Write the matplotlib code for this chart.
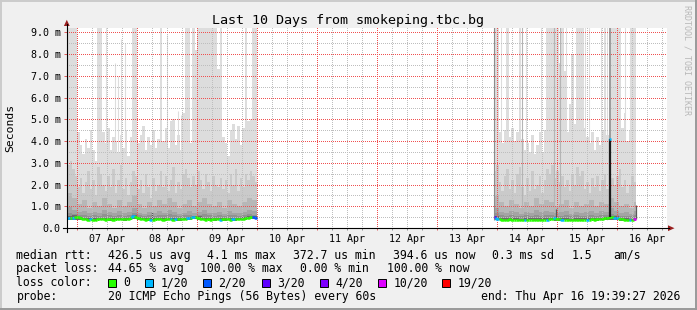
import numpy as np
import matplotlib
matplotlib.use('Agg')
from matplotlib import pyplot as plt
from matplotlib.collections import LineCollection
from matplotlib.patches import Rectangle, Polygon

W, H = 697, 310

# time axis: hours counted from 07 Apr 00:00, one value per hour
P1_START = -4.0
P2_START = 166.7

# ---- first block of data (06 Apr evening .. 10 Apr 00:00) ----
P1_MAX = [
    10, 10, 10, 10, 4.4, 3.8, 3.4, 4.1, 3.7, 4.5,
    3.6, 3.1, 10, 10, 4.4, 3.9, 4.6, 3.6, 4.2, 4.0,
    3.5, 4.3, 3.7, 4.5, 3.3, 4.2, 10, 10, 3.9, 4.3,
    4.7, 3.6, 4.2, 3.8, 4.5, 3.7, 4.1, 10, 4.0, 4.6,
    3.7, 4.9, 5.0, 3.8, 4.3, 3.6, 5.3, 10, 10, 3.9,
    10, 8.2, 10, 10, 10, 10, 10, 10, 10, 10,
    7.3, 10, 4.2, 3.9, 3.3, 4.5, 4.8, 4.1, 4.7, 3.8,
    4.6, 10, 4.9, 5.0, 10, 10,
]
P1_P19 = [
    2.9, 3.1, 2.7, 2.4, 1.9, 2.3, 1.6, 2.1, 2.6, 1.8,
    2.2, 1.5, 2.8, 2.5, 2.0, 1.7, 2.4, 1.9, 2.7, 1.6,
    2.2, 2.9, 1.8, 2.3, 1.5, 2.1, 2.6, 2.4, 1.8, 2.2,
    1.6, 2.5, 1.9, 1.4, 2.3, 1.7, 2.0, 2.6, 1.9, 2.4,
    1.7, 2.2, 2.8, 1.6, 2.1, 1.8, 2.5, 2.7, 2.3, 1.9,
    2.4, 2.0, 2.6, 2.2, 1.8, 2.5, 2.1, 1.7, 2.4, 2.0,
    1.9, 2.3, 1.8, 2.2, 1.6, 2.5, 2.0, 2.7, 1.7, 2.3,
    1.9, 2.5, 2.2, 2.6, 2.4, 2.1,
]
P1_MEDIAN = [
    0.46, 0.44, 0.47, 0.50, 0.52, 0.47, 0.41, 0.40, 0.39, 0.40,
    0.38, 0.39, 0.40, 0.41, 0.40, 0.39, 0.40, 0.41, 0.39, 0.40,
    0.42, 0.41, 0.40, 0.42, 0.43, 0.47, 0.54, 0.52, 0.45, 0.41,
    0.40, 0.39, 0.40, 0.38, 0.39, 0.40, 0.41, 0.40, 0.39, 0.40,
    0.41, 0.40, 0.39, 0.40, 0.41, 0.42, 0.43, 0.42, 0.44, 0.48,
    0.52, 0.50, 0.45, 0.41, 0.40, 0.39, 0.40, 0.39, 0.40, 0.41,
    0.40, 0.39, 0.40, 0.41, 0.40, 0.39, 0.40, 0.41, 0.42, 0.41,
    0.43, 0.44, 0.47, 0.49, 0.50, 0.48,
]
# inner smoke, one value per 2 hours
P1_P18 = [
    1.6, 1.4, 1.1, 1.3, 0.9, 1.2, 1.0, 1.4, 1.1, 0.9,
    1.3, 1.0, 1.2, 1.5, 1.1, 0.9, 1.2, 1.0, 1.3, 1.1,
    1.4, 1.2, 0.9, 1.1, 1.3, 1.0, 1.2, 1.4, 1.1, 1.0,
    1.2, 0.9, 1.3, 1.1, 1.0, 1.2, 1.4, 1.3,
]
P1_P17 = [
    0.95, 0.85, 0.75, 0.80, 0.70, 0.75, 0.70, 0.85, 0.75, 0.70,
    0.80, 0.70, 0.75, 0.90, 0.70, 0.65, 0.75, 0.70, 0.80, 0.70,
    0.85, 0.75, 0.65, 0.70, 0.80, 0.70, 0.75, 0.85, 0.70, 0.70,
    0.75, 0.65, 0.80, 0.70, 0.70, 0.75, 0.85, 0.80,
]
P1_P16 = [
    0.70, 0.65, 0.60, 0.62, 0.57, 0.60, 0.57, 0.63, 0.60, 0.56,
    0.62, 0.57, 0.60, 0.68, 0.58, 0.55, 0.60, 0.57, 0.62, 0.58,
    0.64, 0.60, 0.55, 0.58, 0.62, 0.57, 0.60, 0.66, 0.58, 0.57,
    0.60, 0.55, 0.62, 0.58, 0.57, 0.60, 0.65, 0.62,
]
P1_P14 = [
    0.55, 0.58, 0.48, 0.47, 0.46, 0.47, 0.46, 0.47, 0.46, 0.45,
    0.47, 0.46, 0.47, 0.60, 0.50, 0.46, 0.47, 0.46, 0.47, 0.46,
    0.48, 0.47, 0.46, 0.47, 0.50, 0.56, 0.55, 0.48, 0.47, 0.46,
    0.47, 0.46, 0.47, 0.46, 0.47, 0.50, 0.55, 0.56,
]
P1_MIN = [
    0.38, 0.39, 0.36, 0.35, 0.35, 0.34, 0.35, 0.35, 0.34, 0.35,
    0.35, 0.34, 0.35, 0.40, 0.37, 0.35, 0.34, 0.35, 0.35, 0.34,
    0.35, 0.35, 0.34, 0.35, 0.36, 0.40, 0.38, 0.35, 0.35, 0.34,
    0.35, 0.34, 0.35, 0.34, 0.35, 0.37, 0.40, 0.40,
]
# hour index -> lost pings out of 20
P1_LOSS = {0: 1, 2: 1, 9: 1, 26: 1, 33: 1, 41: 1, 43: 1, 48: 1,
           50: 1, 61: 1, 66: 1, 74: 2, 75: 2}

# ---- second block of data (13 Apr night .. 16 Apr morning) ----
P2_MAX = [
    10, 10, 4.4, 3.9, 4.5, 10, 4.2, 4.6, 4.0, 4.4,
    10, 4.1, 3.6, 3.9, 3.5, 4.3, 3.4, 3.8, 4.4, 3.5,
    4.5, 10, 10, 10, 10, 10, 7.6, 10, 7.2, 4.4,
    5.7, 8.0, 4.8, 10, 10, 10, 4.6, 4.2, 3.9, 4.4,
    3.6, 4.2, 3.8, 4.5, 10, 4.3, 10, 10, 10, 10,
    10, 4.6, 5.3, 4.0, 4.5, 10, 10,
]
P2_P19 = [
    2.6, 2.9, 2.1, 1.7, 2.4, 2.7, 1.8, 2.2, 1.6, 2.5,
    2.8, 1.9, 1.5, 2.3, 1.7, 2.6, 1.8, 2.0, 2.4, 1.6,
    2.2, 2.7, 2.5, 2.9, 2.3, 2.6, 2.1, 2.4, 1.9, 2.2,
    1.7, 2.5, 2.0, 2.8, 2.4, 2.6, 1.8, 2.1, 1.6, 2.3,
    1.9, 2.4, 1.7, 2.2, 2.5, 1.8, 2.6, 2.3, 2.0, 2.4,
    2.7, 1.9, 2.2, 1.6, 2.0, 2.4, 2.1,
]
P2_MEDIAN = [
    0.50, 0.43, 0.41, 0.39, 0.38, 0.39, 0.40, 0.38, 0.37, 0.38,
    0.39, 0.38, 0.37, 0.38, 0.39, 0.38, 0.38, 0.39, 0.38, 0.37,
    0.38, 0.39, 0.40, 0.42, 0.44, 0.41, 0.40, 0.39, 0.38, 0.39,
    0.38, 0.37, 0.38, 0.39, 0.38, 0.39, 0.38, 0.38, 0.39, 0.40,
    0.39, 0.40, 0.41, 0.42, 0.44, 0.47, 0.50, 0.52, 0.48, 0.45,
    0.42, 0.40, 0.39, 0.38, 0.37, 0.38, 0.40,
]
P2_P18 = [
    1.5, 1.2, 1.0, 1.3, 1.1, 0.9, 1.2, 1.0, 1.4, 1.1,
    1.3, 1.2, 1.0, 1.1, 1.3, 0.9, 1.2, 1.0, 1.1, 1.3,
    1.0, 1.2, 1.1, 1.4, 1.2, 1.0, 1.1, 0.9, 1.2,
]
P2_P17 = [
    0.90, 0.75, 0.70, 0.80, 0.72, 0.65, 0.75, 0.70, 0.85, 0.72,
    0.80, 0.75, 0.68, 0.72, 0.80, 0.65, 0.75, 0.70, 0.72, 0.80,
    0.70, 0.78, 0.75, 0.90, 0.80, 0.70, 0.72, 0.65, 0.80,
]
P2_P16 = [
    0.68, 0.60, 0.56, 0.60, 0.57, 0.54, 0.58, 0.56, 0.62, 0.57,
    0.60, 0.59, 0.55, 0.57, 0.60, 0.54, 0.58, 0.56, 0.57, 0.60,
    0.56, 0.60, 0.62, 0.66, 0.62, 0.56, 0.55, 0.53, 0.60,
]
P2_P14 = [
    0.56, 0.47, 0.45, 0.44, 0.44, 0.43, 0.45, 0.44, 0.46, 0.45,
    0.47, 0.48, 0.46, 0.44, 0.45, 0.43, 0.44, 0.44, 0.45, 0.46,
    0.45, 0.48, 0.52, 0.57, 0.54, 0.47, 0.44, 0.43, 0.46,
]
P2_MIN = [
    0.36, 0.35, 0.34, 0.34, 0.35, 0.34, 0.34, 0.35, 0.34, 0.34,
    0.35, 0.35, 0.34, 0.34, 0.35, 0.34, 0.34, 0.34, 0.35, 0.35,
    0.34, 0.35, 0.36, 0.37, 0.36, 0.34, 0.34, 0.33, 0.34,
]
P2_LOSS = {0: 3, 1: 1, 12: 1, 21: 1, 24: 1, 27: 1, 37: 1, 48: 1,
           49: 1, 54: 1, 56: 10}

# single samples that stick out: (hour, top in ms)
LIGHT_SPIKES = [(11.6, 10), (15.3, 7.6), (16.3, 7.0), (17.7, 8.7), (19.0, 8.5),
                (36.0, 8.9), (40.5, 5.4), (41.5, 5.2), (169.7, 10), (179.7, 10),
                (185.6, 10), (195.7, 10), (203.3, 10), (204.9, 10), (209.7, 10),
                (212.1, 10), (219.0, 10), (221.1, 10)]
MID_SPIKES = [(178.0, 10), (190.9, 10), (193.3, 10)]
DARK_SPIKES = [(30.0, 0.72), (191.6, 0.87), (223.6, 1.05)]
MEDIAN_SPIKE = (213.2, 4.1, 1)   # hour, median ms, lost pings

DAY_LABELS = ['07 Apr', '08 Apr', '09 Apr', '10 Apr', '11 Apr',
              '12 Apr', '13 Apr', '14 Apr', '15 Apr', '16 Apr']
Y_LABELS = ['0.0', '1.0 m', '2.0 m', '3.0 m', '4.0 m',
            '5.0 m', '6.0 m', '7.0 m', '8.0 m', '9.0 m']

LOSS_STEPS = [0, 1, 2, 3, 4, 10, 19]
LOSS_LABELS = ['0', '1/20', '2/20', '3/20', '4/20', '10/20', '19/20']
LOSS_COLORS = ['#26ff00', '#00b8ff', '#0059ff', '#5e00ff', '#7e00ff', '#dd00ff', '#ff0000']

RTT_TEXT = ['426.5 us avg', '4.1 ms max', '372.7 us min', '394.6 us now',
            '0.3 ms sd', '1.5', 'am/s']
LOSS_TEXT = ['44.65 % avg', '100.00 % max', '0.00 % min', '100.00 % now']
PROBE_TEXT = '20 ICMP Echo Pings (56 Bytes) every 60s'
END_TEXT = 'end: Thu Apr 16 19:39:27 2026'

SMOKE_COLORS = ['#dddddd', '#cacaca', '#b7b7b7', '#a4a4a4', '#919191', '#6b6b6b']

X_MIN, X_MAX = -4.0, 236.0
Y_MAX = 9.2
PW, PH = 600, 200   # plot area in pixels


def loss_color(n):
    idx = 0
    for i, step in enumerate(LOSS_STEPS):
        if n >= step:
            idx = i
    return LOSS_COLORS[idx]


def step_fill(ax, start, lower, upper, color, z):
    upper = np.asarray(upper, dtype=float)
    lower = np.asarray(lower, dtype=float)[:len(upper)]
    edges = start + np.arange(len(upper) + 1)
    ax.fill_between(edges, np.append(lower, lower[-1]), np.append(upper, upper[-1]),
                    step='post', color=color, lw=0, zorder=z, antialiased=False)


def draw_smoke(ax, start, mx, p19, p18, p17, p16, p14, mn):
    n = len(mx)
    low = np.repeat(mn, 2)[:n]
    layers = [mx, p19, np.repeat(p18, 2)[:n], np.repeat(p17, 2)[:n],
              np.repeat(p16, 2)[:n], np.repeat(p14, 2)[:n]]
    for i, (vals, col) in enumerate(zip(layers, SMOKE_COLORS)):
        step_fill(ax, start, low, vals, col, 1 + i * 0.1)


def draw_median(ax, start, med, loss):
    segs, cols = [], []
    for k, m in enumerate(med):
        x0 = start + k
        prev = med[k - 1] if k else m
        segs.append([(x0, prev), (x0, m), (x0 + 1, m)])
        cols.append(loss_color(loss.get(k, 0)))
    ax.add_collection(LineCollection(segs, colors=cols, linewidths=1.8,
                                     zorder=6, capstyle='butt'))


def grid_image(minor_x, minor_y, major_x, major_y):
    # rrdtool style dotted grid, one pixel on / one pixel off
    img = np.zeros((PH, PW, 4), dtype=np.uint8)
    gray = (190, 190, 190, 255)
    red = (240, 80, 80, 255)
    for xs, ys, col in ((minor_x, minor_y, gray), (major_x, major_y, red)):
        for x in xs:
            c = int(round((x - X_MIN) / (X_MAX - X_MIN) * PW))
            if 0 <= c < PW:
                img[::2, c] = col
        for y in ys:
            r = int(round(PH - y / Y_MAX * PH))
            if 0 <= r < PH:
                img[r, ::2] = col
    return img


plt.rcParams['font.family'] = 'DejaVu Sans Mono'
fig = plt.figure(figsize=(W / 100, H / 100), dpi=100, facecolor='#f0f0f0')

ax = fig.add_axes([67 / W, 82 / H, PW / W, PH / H], facecolor='white')
ax.set_xlim(X_MIN, X_MAX)
ax.set_ylim(0, Y_MAX)
for s in ax.spines.values():
    s.set_visible(False)

draw_smoke(ax, P1_START, P1_MAX, P1_P19, P1_P18, P1_P17, P1_P16, P1_P14, P1_MIN)
draw_smoke(ax, P2_START, P2_MAX, P2_P19, P2_P18, P2_P17, P2_P16, P2_P14, P2_MIN)

for h, top in LIGHT_SPIKES:
    ax.vlines(h, 0.36, top, colors='#dddddd', lw=0.8, zorder=1.05)
for h, top in MID_SPIKES:
    ax.vlines(h, 0.36, top, colors='#b4b4b4', lw=0.8, zorder=1.25)
for h, top in DARK_SPIKES:
    ax.vlines(h, 0.4, top, colors='#5a5a5a', lw=0.9, zorder=1.6)
ax.vlines(P2_START, 0.36, 10, colors='#8c8c8c', lw=0.8, zorder=1.6)

# grid on top of smoke
day_hours = np.arange(0, 236, 24)
six_hours = [h for h in np.arange(0, 236, 6) if h % 24]
ax.imshow(grid_image(six_hours, np.arange(0.5, 9.2, 1.0), day_hours, range(1, 10)),
          extent=(X_MIN, X_MAX, 0, Y_MAX), aspect='auto', interpolation='nearest',
          interpolation_stage='rgba', zorder=3)

draw_median(ax, P1_START, P1_MEDIAN, P1_LOSS)
draw_median(ax, P2_START, P2_MEDIAN, P2_LOSS)

sh, sv, sl = MEDIAN_SPIKE
base = P2_MEDIAN[int(sh - P2_START)]
ax.vlines(sh, sv, 10, colors='#8a8a8a', lw=1.1, zorder=6.5)
ax.vlines(sh, base, sv, colors='#1a1a1a', lw=1.6, zorder=6.5)
ax.plot([sh - 0.35, sh + 0.35], [sv, sv], color=loss_color(sl), lw=1.8,
        zorder=6.6, solid_capstyle='butt')

# small tick marks crossing the axes
ax.vlines(day_hours, -0.012, 0.0, colors='#e06060', lw=0.72,
          transform=ax.get_xaxis_transform(), clip_on=False, zorder=7)
ax.vlines(six_hours, -0.008, 0.0, colors='#909090', lw=0.72,
          transform=ax.get_xaxis_transform(), clip_on=False, zorder=7)
ax.hlines(range(1, 10), -0.005, 0.0, colors='#e06060', lw=0.72,
          transform=ax.get_yaxis_transform(), clip_on=False, zorder=7)

ax.set_xticks(np.arange(12, 236, 24), DAY_LABELS)
ax.set_yticks(range(10), Y_LABELS)
ax.tick_params(axis='x', length=0, pad=4.0, labelsize=7.2)
ax.tick_params(axis='y', length=0, pad=4.6, labelsize=7.2)

# overlay in pixel coordinates for frame, axes lines and legend
ov = fig.add_axes([0, 0, 1, 1], facecolor='none', zorder=10)
ov.set_xlim(0, W)
ov.set_ylim(H, 0)
ov.axis('off')

ov.plot([0.5, W - 0.5], [0.8, 0.8], color='#cbcbcb', lw=1.4)
ov.plot([0.8, 0.8], [0.5, H - 0.5], color='#cbcbcb', lw=1.4)
ov.plot([0.5, W - 0.5], [H - 0.8, H - 0.8], color='#999999', lw=1.4)
ov.plot([W - 0.8, W - 0.8], [0.5, H - 0.5], color='#999999', lw=1.4)

ov.plot([63, 669], [228.2, 228.2], color='black', lw=0.8)
ov.plot([66.8, 66.8], [231.5, 24], color='black', lw=0.8)
ov.add_patch(Polygon([(668, 225.3), (674.5, 228.2), (668, 231.1)], closed=True,
                     color='#9a1f1f', lw=0))
ov.add_patch(Polygon([(63.9, 26), (66.8, 19.8), (69.7, 26)], closed=True,
                     color='#9a1f1f', lw=0))

ov.text(348.5, 24, 'Last 10 Days from smokeping.tbc.bg', ha='center', va='baseline',
        fontsize=9.6)
ov.text(10.7, 128, 'Seconds', rotation=90, ha='center', va='center', fontsize=8.2)
ov.text(687.5, 5, 'RRDTOOL / TOBI OETIKER', rotation=-90, ha='center', va='top',
        fontsize=6.0, color='#b8b8b8')

fs = 8.3
rows = [258.6, 272.4, 286.3, 300.1]
ov.text(16.4, rows[0], 'median rtt:', fontsize=fs, va='baseline')
for txt, x in zip(RTT_TEXT, [107.6, 207.1, 292.9, 392.9, 492.4, 572.0, 613.3]):
    ov.text(x, rows[0], txt, fontsize=fs, va='baseline')
ov.text(16.4, rows[1], 'packet loss:', fontsize=fs, va='baseline')
for txt, x in zip(LOSS_TEXT, [107.6, 200.0, 300.0, 386.7]):
    ov.text(x, rows[1], txt, fontsize=fs, va='baseline')
ov.text(16.4, rows[2], 'loss color:', fontsize=fs, va='baseline')
box_x = [108.0, 145.3, 203.1, 262.2, 320.0, 377.8, 442.2]
for lab, col, x in zip(LOSS_LABELS, LOSS_COLORS, box_x):
    ov.add_patch(Rectangle((x, 279.0), 8, 8.3, facecolor=col, edgecolor='black', lw=0.7))
    ov.text(x + 15.5, rows[2], lab, fontsize=fs, va='baseline')
ov.text(16.4, rows[3], 'probe:', fontsize=fs, va='baseline')
ov.text(107.6, rows[3], PROBE_TEXT, fontsize=fs, va='baseline')
ov.text(680.0, rows[3], END_TEXT, fontsize=fs, va='baseline', ha='right')

fig.savefig('out.png', dpi=100, facecolor=fig.get_facecolor())
